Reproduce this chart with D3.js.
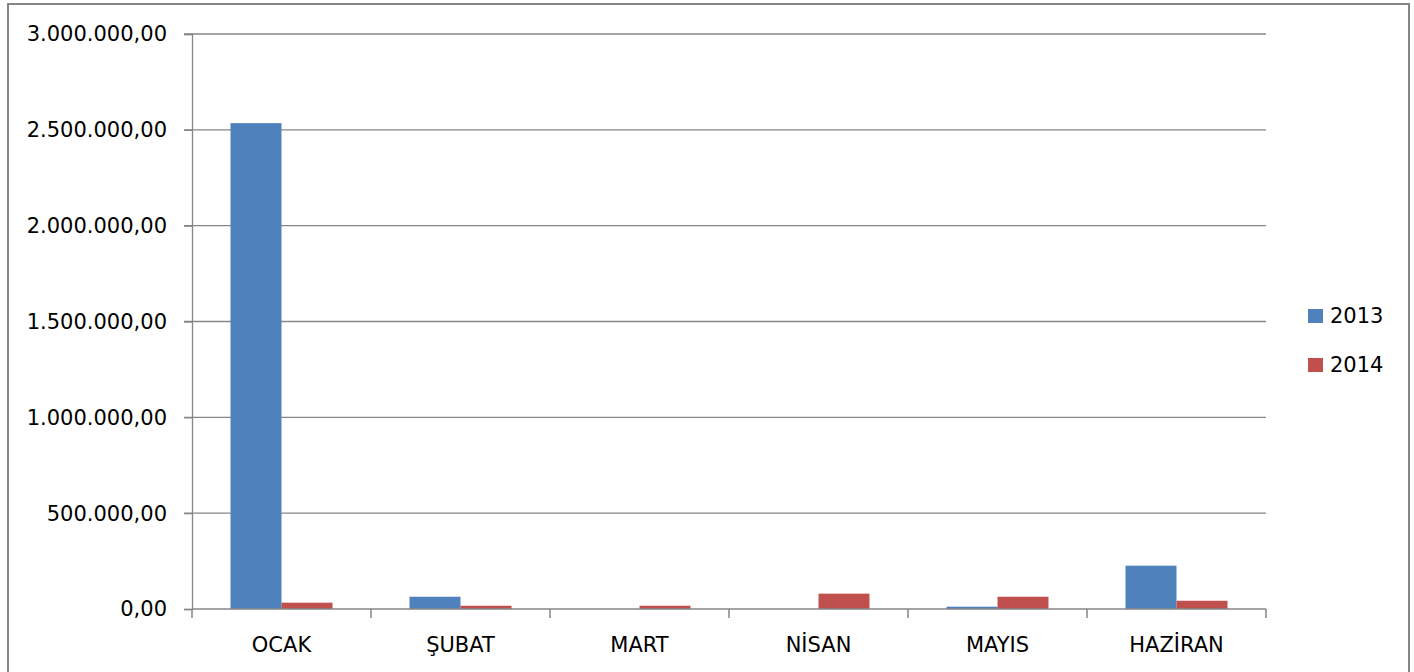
<!DOCTYPE html>
<html>
<head>
<meta charset="utf-8">
<script src="https://cdn.jsdelivr.net/npm/d3@7"></script>
<style>
  body { margin: 0; background: #fff; }
  text { font-family: "DejaVu Sans", Verdana, sans-serif; font-size: 21px; fill: #000; }
</style>
</head>
<body>
<script>
// months and the two yearly series
months = ["OCAK", "ŞUBAT", "MART", "NİSAN", "MAYIS", "HAZİRAN"];
years = ["2013", "2014"];
values2013 = [2535000, 64000, 0, 0, 12000, 226000];
values2014 = [33000, 17000, 17000, 80000, 64000, 43000];
yTicks = [0, 500000, 1000000, 1500000, 2000000, 2500000, 3000000];
colors = ["#4F81BD", "#C0504D"];

rows = months.map((m, i) => ({ month: m, vals: [values2013[i], values2014[i]] }));

trFormat = d3.formatLocale({ decimal: ",", thousands: ".", grouping: [3], currency: ["", ""] }).format(",.2f");

svg = d3.select("body").append("svg").attr("width", 1414).attr("height", 672);

// outer frame
svg.append("rect")
    .attr("x", 8).attr("y", 4)
    .attr("width", 1401).attr("height", 700)
    .style("fill", "none")
    .style("stroke", "#868686")
    .style("stroke-width", 2);

x = d3.scaleBand().domain(months).range([192, 1266]).paddingInner(0).paddingOuter(0);
y = d3.scaleLinear().domain([0, 3000000]).range([609, 34]);
inner = d3.scaleBand().domain([0, 1]).range([0, x.bandwidth()]).paddingInner(0).paddingOuter(0.755);

// gridlines
svg.selectAll("line.grid").data(yTicks.slice(1)).enter().append("line")
    .attr("class", "grid")
    .attr("x1", 184).attr("x2", 1266)
    .attr("y1", (d) => y(d)).attr("y2", (d) => y(d))
    .style("stroke", "#868686")
    .style("stroke-width", 1.3);

// bars
svg.selectAll("g.month").data(rows).enter().append("g")
    .attr("class", "month")
    .attr("transform", (d) => "translate(" + x(d.month) + ",0)")
    .selectAll("rect").data((d) => d.vals).enter().append("rect")
    .attr("x", (d, i) => inner(i))
    .attr("y", (d) => y(d))
    .attr("width", inner.bandwidth())
    .attr("height", (d) => y(0) - y(d))
    .style("fill", (d, i) => colors[i]);

// y axis
yAxis = svg.append("g")
    .attr("transform", "translate(192,0)")
    .call(d3.axisLeft(y).tickValues(yTicks).tickFormat(trFormat).tickSize(8).tickPadding(17));
yAxis.select(".domain").style("stroke", "#868686").style("stroke-width", 1.3);
yAxis.selectAll(".tick line").style("stroke", "#868686").style("stroke-width", 1.3);
yAxis.selectAll("text")
    .style("font-family", "'DejaVu Sans', Verdana, sans-serif")
    .style("font-size", "21px")
    .style("fill", "#000")
    .attr("dy", "0.33em");

// x axis
xTicks = d3.range(months.length + 1).map((i) => 192 + i * x.bandwidth());
xAxis = svg.append("g");
xAxis.append("line")
    .attr("x1", 192).attr("x2", 1266)
    .attr("y1", y(0)).attr("y2", y(0))
    .style("stroke", "#868686")
    .style("stroke-width", 1.5);
xAxis.selectAll("line.tick").data(xTicks).enter().append("line")
    .attr("class", "tick")
    .attr("x1", (d) => d).attr("x2", (d) => d)
    .attr("y1", y(0)).attr("y2", y(0) + 9)
    .style("stroke", "#868686")
    .style("stroke-width", 1.5);
xAxis.selectAll("text").data(months).enter().append("text")
    .attr("x", (d) => x(d) + x.bandwidth() / 2)
    .attr("y", 652)
    .attr("text-anchor", "middle")
    .text((d) => d);

// legend
legend = svg.selectAll("g.legend").data(years).enter().append("g")
    .attr("class", "legend")
    .attr("transform", (d, i) => "translate(1308," + (309 + i * 49) + ")");
legend.append("rect")
    .attr("width", 15).attr("height", 14)
    .style("fill", (d, i) => colors[i]);
legend.append("text")
    .attr("x", 22).attr("y", 14)
    .text((d) => d);
</script>
</body>
</html>
